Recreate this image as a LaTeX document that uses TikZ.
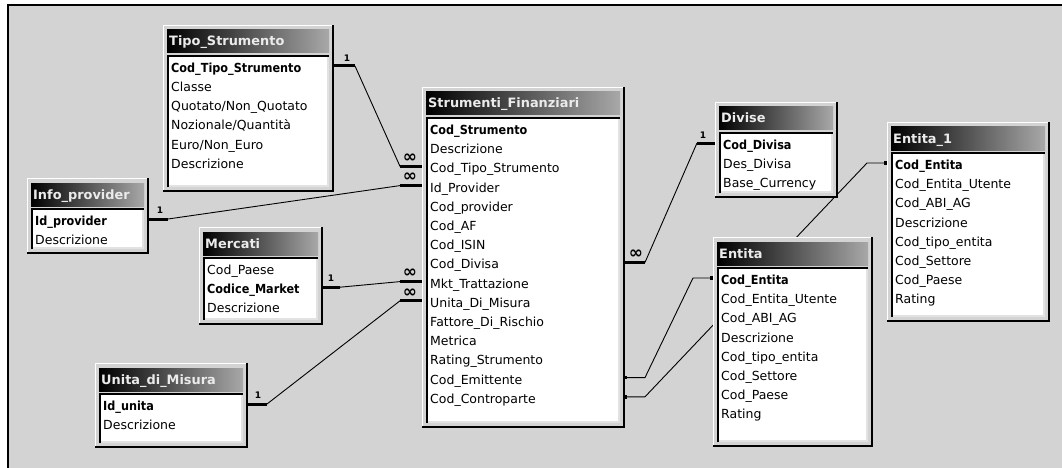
\documentclass[tikz,border=0pt]{standalone}
\usepackage{fontspec}
\setmainfont{DejaVu Sans}
\newfontfamily\keyfont{DejaVu Sans}[FakeStretch=0.9]
\usetikzlibrary{calc}

\definecolor{canvas}{RGB}{211,211,211}
\definecolor{tablebg}{RGB}{211,211,211}
\definecolor{titlegray}{RGB}{168,168,168}
\definecolor{bodyedge}{RGB}{226,226,226}

\pgfdeclarelayer{canvaslayer}
\pgfdeclarelayer{linklayer}
\pgfsetlayers{canvaslayer,linklayer,main}

% key fields are set in a narrow bold face
\newcommand\kf[1]{{\keyfont\bfseries #1}}

\tikzset{
  fieldtext/.style={inner sep=0pt, anchor=base west, font=\fontsize{12.5}{14}\selectfont},
  titletext/.style={inner sep=0pt, anchor=base west, text=white!92!black,
                    font=\fontsize{12.9}{15}\selectfont\bfseries},
  stub/.style={line width=3pt},
  link/.style={line width=0.9pt},
  onelabel/.style={inner sep=0pt, font=\fontsize{9}{9}\selectfont\bfseries},
  manylabel/.style={inner sep=0pt, font=\fontsize{17}{17}\selectfont\bfseries},
  joindot/.style={fill=black, minimum size=3.5pt, inner sep=0pt},
}

% #1 name, #2 left, #3 top, #4 right, #5 bottom, #6 title, #7 fields
\newcommand\erTable[7]{%
  \fill[tablebg] (#2,#3) rectangle (#4,#5);
  \draw[white, line width=1pt] (#2+0.5,#5) -- (#2+0.5,#3+0.5) -- (#4,#3+0.5);
  \draw[black, line width=2.5pt] (#2,#5-1.25) -- (#4-1.25,#5-1.25) -- (#4-1.25,#3);
  \shade[left color=black, right color=titlegray] (#2+4,#3+5) rectangle (#4-5,#3+28);
  \fill[white] (#2+4,#3+30) rectangle (#4-5,#5-5);
  \draw[bodyedge, line width=2pt] (#2+5,#5-6) -- (#4-6,#5-6) -- (#4-6,#3+31);
  \draw[black, line width=2pt] (#2+5,#5-5) -- (#2+5,#3+31) -- (#4-5,#3+31);
  \node[titletext] (#1-title) at (#2+6,#3+21) {#6};
  \foreach \fld [count=\i] in {#7} {
    \node[fieldtext] (#1-\i) at (#2+8,{#3+47.4+(\i-1)*19.2}) {\fld};
    \coordinate (#1-L\i) at (#2,{#3+41+(\i-1)*19.2});
    \coordinate (#1-R\i) at (#4,{#3+41+(\i-1)*19.2});
  }
}

\begin{document}
\begin{tikzpicture}[x=1pt, y=-1pt]
\useasboundingbox (0,0) rectangle (1062,468);

% window background with its frame
\begin{pgfonlayer}{canvaslayer}
  \fill[white] (0,0) rectangle (1062,468);
  \fill[canvas] (8,5) rectangle (1062,468);
  \draw[black, line width=2.4pt] (8,468) -- (8,5.3) -- (1062,5.3);
  \draw[black, line width=1.6pt] (8,5.3) -- (1062,5.3);
\end{pgfonlayer}

% tables
\erTable{tipo}{163}{25}{334}{192}{Tipo\_Strumento}%
  {\kf{Cod\_Tipo\_Strumento}, Classe, Quotato/Non\_Quotato, Nozionale/Quantità,
   Euro/Non\_Euro, Descrizione}
\erTable{info}{27}{178}{149}{254}{Info\_provider}%
  {\kf{Id\_provider}, Descrizione}
\erTable{merc}{199}{227}{323}{325}{Mercati}%
  {Cod\_Paese, \kf{Codice\_Market}, Descrizione}
\erTable{unita}{95}{363}{248}{448}{Unita\_di\_Misura}%
  {\kf{Id\_unita}, Descrizione}
\erTable{sf}{422}{87}{625}{428}{Strumenti\_Finanziari}%
  {\kf{Cod\_Strumento}, Descrizione, Cod\_Tipo\_Strumento, Id\_Provider,
   Cod\_provider, Cod\_AF, Cod\_ISIN, Cod\_Divisa, Mkt\_Trattazione,
   Unita\_Di\_Misura, Fattore\_Di\_Rischio, Metrica, Rating\_Strumento,
   Cod\_Emittente, Cod\_Controparte}
\erTable{div}{715}{102}{838}{198}{Divise}%
  {\kf{Cod\_Divisa}, Des\_Divisa, Base\_Currency}
\erTable{ent1}{887}{122}{1050}{322}{Entita\_1}%
  {\kf{Cod\_Entita}, Cod\_Entita\_Utente, Cod\_ABI\_AG, Descrizione,
   Cod\_tipo\_entita, Cod\_Settore, Cod\_Paese, Rating}
\erTable{ent}{713}{237}{873}{447}{Entita}%
  {\kf{Cod\_Entita}, Cod\_Entita\_Utente, Cod\_ABI\_AG, Descrizione,
   Cod\_tipo\_entita, Cod\_Settore, Cod\_Paese, Rating}

% relationships, kept beneath the tables
\begin{pgfonlayer}{linklayer}
  % Tipo_Strumento -> Strumenti_Finanziari
  \draw[stub] (tipo-R1) -- ++(21,0) coordinate (k1a);
  \draw[stub] (sf-L3) -- ++(-22,0) coordinate (k1b);
  \draw[link] (k1a) -- (k1b);
  \node[onelabel] (one1) at ($(tipo-R1)+(13,-8)$) {1};
  \node[manylabel] (many1) at ($(sf-L3)+(-12,-8)$) {∞};

  % Info_provider -> Strumenti_Finanziari
  \draw[stub] (info-R1) -- ++(19,0) coordinate (k2a);
  \draw[stub] (sf-L4) -- ++(-22,0) coordinate (k2b);
  \draw[link] (k2a) -- (k2b);
  \node[onelabel] (one2) at ($(info-R1)+(11,-9)$) {1};
  \node[manylabel] (many2) at ($(sf-L4)+(-12,-8)$) {∞};

  % Mercati -> Strumenti_Finanziari
  \draw[stub] (merc-R2) -- ++(17,0) coordinate (k3a);
  \draw[stub] (sf-L9) -- ++(-22,0) coordinate (k3b);
  \draw[link] (k3a) -- (k3b);
  \node[onelabel] (one3) at ($(merc-R2)+(8,-9)$) {1};
  \node[manylabel] (many3) at ($(sf-L9)+(-12,-8)$) {∞};

  % Unita_di_Misura -> Strumenti_Finanziari
  \draw[stub] (unita-R1) -- ++(19,0) coordinate (k4a);
  \draw[stub] (sf-L10) -- ++(-22,0) coordinate (k4b);
  \draw[link] (k4a) -- (k4b);
  \node[onelabel] (one4) at ($(unita-R1)+(10,-9)$) {1};
  \node[manylabel] (many4) at ($(sf-L10)+(-12,-8)$) {∞};

  % Strumenti_Finanziari -> Divise
  \draw[stub] (sf-R8) -- ++(20,0) coordinate (k5a);
  \draw[stub] (div-L1) -- ++(-18,0) coordinate (k5b);
  \draw[link] (k5a) -- (k5b);
  \node[manylabel] (many5) at ($(sf-R8)+(11,-8)$) {∞};
  \node[onelabel] (one5) at ($(div-L1)+(-12,-8)$) {1};

  % Cod_Emittente -> Entita
  \draw[link] (sf-R14) -- ++(20,0) -- ([xshift=-20pt]ent-L1) -- (ent-L1);
  \node[joindot] (dot1) at (sf-R14) {};
  \node[joindot] (dot2) at ([xshift=-1pt]ent-L1) {};

  % Cod_Controparte -> Entita_1 (passes behind Entita)
  \draw[link] (sf-R15) -- ++(20,0) -- ([xshift=-20pt]ent1-L1) -- (ent1-L1);
  \node[joindot] (dot3) at (sf-R15) {};
  \node[joindot] (dot4) at ([xshift=-1pt]ent1-L1) {};
\end{pgfonlayer}
\end{tikzpicture}
\end{document}
